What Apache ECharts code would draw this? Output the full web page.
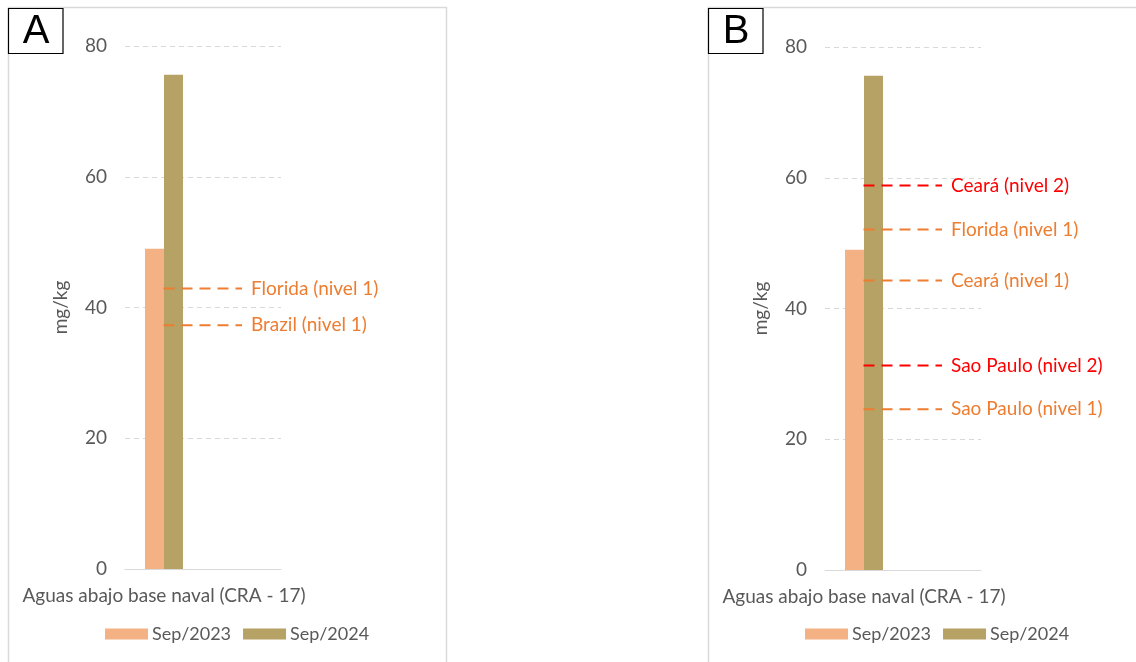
<!DOCTYPE html>
<html>
<head>
<meta charset="utf-8">
<title>Cromo en sedimentos</title>
<script src="https://cdn.jsdelivr.net/npm/echarts@6/dist/echarts.min.js"></script>
<style>
  html, body { margin: 0; padding: 0; background: #ffffff; }
  #chart { width: 1136px; height: 662px; }
</style>
</head>
<body>
<div id="chart"></div>
<script>
// ---- data ----
const categories = ['Aguas abajo base naval (CRA - 17)', ''];
const seriesNames = ['Sep/2023', 'Sep/2024'];
const valuesSep2023 = [49.0, null];
const valuesSep2024 = [75.6, null];
const yTicks = [0, 20, 40, 60, 80];

// reference levels, panel A
const refNamesA = ['Florida (nivel 1)', 'Brazil (nivel 1)'];
const refValuesA = [42.9, 37.3];
const refLevelA = [1, 1];

// reference levels, panel B
const refNamesB = ['Ceará (nivel 2)', 'Florida (nivel 1)', 'Ceará (nivel 1)', 'Sao Paulo (nivel 2)', 'Sao Paulo (nivel 1)'];
const refValuesB = [58.8, 52.1, 44.3, 31.3, 24.6];
const refLevelB = [2, 1, 1, 2, 1];

// ---- styling / layout ----
const FONT = 'Lato, "Open Sans", sans-serif';
const FS = 19;
const TEXT = '#595959';
const GRIDC = '#d9d9d9';
const BAR_COLORS = ['#F4B183', '#B5A264'];
const LEVEL_COLORS = { 1: '#ED7D31', 2: '#FF0000' };
const PLOT_W = 156;          // plot width in px (also the span of the helper x axis)
const LINE_FROM = 38.5;      // reference segments start (px from plot left)
const LINE_TO = 117;         // reference segments end
const panels = [
  { left: 125, top: 46, bottom: 93, off: 0, letter: 'A', refNames: refNamesA, refValues: refValuesA, refLevel: refLevelA },
  { left: 825, top: 47, bottom: 92, off: 700, letter: 'B', refNames: refNamesB, refValues: refValuesB, refLevel: refLevelB }
];

const grid = [], xAxis = [], yAxis = [], series = [], legend = [], graphic = [];

panels.forEach((p, i) => {
  grid.push({ left: p.left, width: PLOT_W, top: p.top, bottom: p.bottom, containLabel: false });

  // category axis
  xAxis.push({
    type: 'category', gridIndex: i, data: categories,
    axisLine: { lineStyle: { color: GRIDC, width: 1 } },
    axisTick: { show: false },
    axisLabel: { interval: 0, color: TEXT, fontFamily: FONT, fontSize: FS, margin: 17 }
  });
  // helper value axis spanning the plot, used to place reference segments
  xAxis.push({
    type: 'value', gridIndex: i, min: 0, max: PLOT_W, show: false
  });

  yAxis.push({
    type: 'value', gridIndex: i, min: yTicks[0], max: yTicks[yTicks.length - 1], interval: 20,
    name: 'mg/kg', nameLocation: 'middle', nameGap: 55, nameRotate: 90,
    nameTextStyle: { color: TEXT, fontFamily: FONT, fontSize: FS },
    axisLine: { show: false }, axisTick: { show: false },
    axisLabel: { color: TEXT, fontFamily: FONT, fontSize: FS, margin: 18 },
    splitLine: { lineStyle: { color: GRIDC, type: [5, 4], width: 1 } }
  });

  [valuesSep2023, valuesSep2024].forEach((vals, k) => {
    series.push({
      type: 'bar', name: seriesNames[k], xAxisIndex: i * 2, yAxisIndex: i,
      data: vals, barWidth: 19, barGap: '0%',
      itemStyle: { color: BAR_COLORS[k] }, silent: true
    });
  });

  p.refNames.forEach((nm, j) => {
    const col = LEVEL_COLORS[p.refLevel[j]];
    const v = p.refValues[j];
    series.push({
      type: 'line', name: nm, xAxisIndex: i * 2 + 1, yAxisIndex: i,
      data: [[LINE_FROM, v], [LINE_TO, v]],
      symbol: 'none', silent: true, z: 5,
      lineStyle: { color: col, width: 2, type: [11, 7] },
      endLabel: { show: true, formatter: nm, color: col, fontFamily: FONT, fontSize: FS, distance: 9 }
    });
  });

  legend.push({
    data: seriesNames.map((n, k) => ({ name: n, itemStyle: { color: BAR_COLORS[k] } })),
    left: 105 + p.off, top: 624, padding: 0, itemWidth: 43, itemHeight: 11, itemGap: 12,
    icon: 'rect', selectedMode: false,
    textStyle: { color: TEXT, fontFamily: FONT, fontSize: 18, lineHeight: 20, padding: [0, 0, 0, -1] }
  });

  // panel frame
  graphic.push({
    type: 'polyline', silent: true,
    shape: { points: [[8.5 + p.off, 680], [8.5 + p.off, 7.5], [446.5 + p.off, 7.5], [446.5 + p.off, 680]] },
    style: { stroke: GRIDC, lineWidth: 1.5, fill: null }
  });
  // panel letter box
  graphic.push({
    type: 'rect', silent: true, z: 10,
    shape: { x: 8.5 + p.off, y: 8.5, width: 54.5, height: 45 },
    style: { stroke: '#000000', lineWidth: 1.2, fill: '#ffffff' }
  });
  graphic.push({
    type: 'text', silent: true, z: 11,
    style: {
      text: p.letter, x: 36 + p.off, y: 32, align: 'center', verticalAlign: 'middle',
      fill: '#000000', font: '40px "Liberation Sans", Arial, sans-serif'
    }
  });
});

const chart = echarts.init(document.getElementById('chart'), null, { renderer: 'canvas' });
chart.setOption({
  animation: false,
  backgroundColor: '#ffffff',
  grid, xAxis, yAxis, series, legend, graphic
});
</script>
</body>
</html>
